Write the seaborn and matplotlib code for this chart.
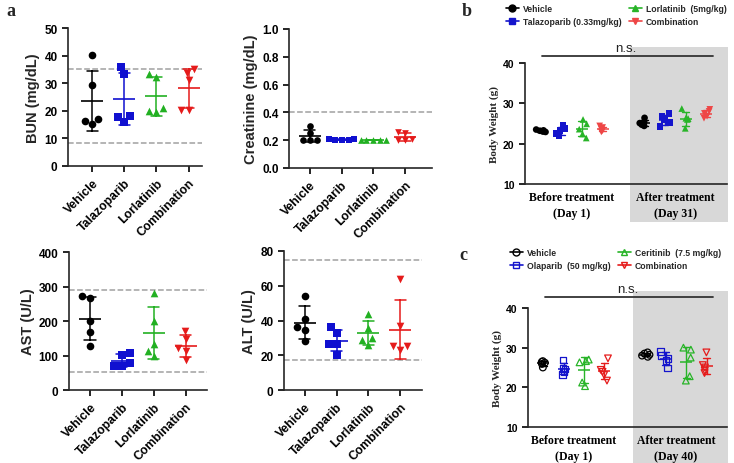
import numpy as np
import pandas as pd
import matplotlib
matplotlib.use('Agg')
import matplotlib.pyplot as plt
import seaborn as sns
from matplotlib.lines import Line2D
from matplotlib.patches import Rectangle

# ---- data ----
groups_a = ['Vehicle', 'Talazoparib', 'Lorlatinib', 'Combination']
colors_a = ['#000000', '#1010d0', '#22b022', '#e51b1b']
markers_a = ['o', 's', '^', 'v']

bun = [[40.3, 29.3, 17.0, 16.4, 15.2],
       [35.7, 33.2, 18.0, 17.8, 16.1],
       [33.4, 32.2, 21.0, 20.0, 19.4],
       [35.0, 33.7, 31.0, 20.4, 20.3]]
creatinine = [[0.30, 0.25, 0.20, 0.20, 0.20],
              [0.21, 0.21, 0.20, 0.20, 0.20],
              [0.20, 0.20, 0.20, 0.20, 0.20],
              [0.26, 0.25, 0.21, 0.20, 0.20]]
ast = [[273, 267, 199, 168, 128],
       [108, 101, 77, 70, 70],
       [282, 201, 133, 114, 99],
       [170, 148, 122, 114, 87]]
alt = [[53.9, 40.9, 36.0, 34.5, 28.4],
       [36.0, 33.0, 26.5, 26.5, 20.3],
       [43.7, 35.5, 29.7, 28.8, 25.9],
       [63.9, 36.6, 25.3, 25.3, 23.0]]

bun_ref = [35, 8.5]
creatinine_ref = [0.4]
ast_ref = [290, 53]
alt_ref = [74.8, 17.3]

times_b = ['Before treatment\n(Day 1)', 'After treatment\n(Day 31)']
groups_b = ['Vehicle', 'Talazoparib (0.33mg/kg)', 'Lorlatinib  (5mg/kg)', 'Combination']
colors_b = ['#000000', '#1414cc', '#28b428', '#ee4646']
weight_b_before = [[23.5, 23.3, 23.2, 23.0, 22.9],
                   [24.5, 23.8, 23.2, 22.5, 21.9],
                   [26.0, 24.9, 23.6, 22.4, 21.4],
                   [24.4, 24.0, 23.6, 23.2, 22.9]]
weight_b_after = [[26.4, 25.4, 25.1, 24.7, 24.4],
                  [27.4, 26.8, 26.0, 25.2, 24.2],
                  [28.7, 26.3, 26.2, 26.0, 23.8],
                  [28.5, 28.0, 27.5, 26.8, 26.3]]

times_c = ['Before treatment\n(Day 1)', 'After treatment\n(Day 40)']
groups_c = ['Vehicle', 'Olaparib  (50 mg/kg)', 'Ceritinib  (7.5 mg/kg)', 'Combination']
colors_c = ['#000000', '#1414cc', '#28b428', '#e51b1b']
weight_c_before = [[26.6, 26.4, 26.2, 25.9, 25.0],
                   [26.9, 24.8, 24.6, 24.0, 23.2],
                   [27.0, 26.6, 26.3, 21.2, 20.3],
                   [27.3, 24.4, 23.9, 23.1, 21.7]]
weight_c_after = [[28.8, 28.5, 28.2, 28.0, 27.7],
                  [29.1, 28.1, 27.2, 26.8, 24.9],
                  [30.0, 29.5, 27.5, 22.8, 21.7],
                  [28.8, 25.6, 25.0, 24.2, 23.6]]

sns.set_style('ticks')
plt.rcParams['font.family'] = ['Liberation Sans', 'DejaVu Sans']
plt.rcParams['axes.linewidth'] = 1.2
np.random.seed(7)  # only for the small horizontal jitter of the body weight dots

fig = plt.figure(figsize=(7.34, 4.64), dpi=100)


def style_axes(ax):
    sns.despine(ax=ax)
    ax.tick_params(width=1.2, length=4, colors='black')
    for lab in ax.get_yticklabels():
        lab.set_fontweight('bold')


def lab_panel(rect, values, ylabel, yticks, refs, xlim, fmt=None, size=5.5):
    ax = fig.add_axes(rect)
    df = pd.DataFrame([(g, v) for g, vals in zip(groups_a, values) for v in vals],
                      columns=['group', 'value'])
    for g, c, m in zip(groups_a, colors_a, markers_a):
        sns.swarmplot(data=df[df.group == g], x='group', y='value', order=groups_a,
                      color=c, marker=m, size=size, linewidth=0, ax=ax, zorder=3)
    sns.pointplot(data=df, x='group', y='value', hue='group', order=groups_a,
                  hue_order=groups_a, palette=colors_a, errorbar='sd', capsize=0.35,
                  marker='_', linestyle='none', markersize=16, markeredgewidth=1.2,
                  err_kws={'linewidth': 1.1}, legend=False, ax=ax)
    for r in refs:
        ax.axhline(r, color='#a0a0a0', ls='--', lw=1.1, zorder=1)
    ax.set_ylim(yticks[0], yticks[-1])
    ax.set_yticks(yticks)
    if fmt:
        ax.set_yticklabels([fmt.format(t) for t in yticks])
    ax.set_xlim(*xlim)
    ax.set_xlabel('')
    ax.set_ylabel(ylabel, fontsize=10.5, fontweight='bold', labelpad=3)
    ax.tick_params(axis='y', labelsize=8.5)
    ax.set_xticks(range(len(groups_a)))
    ax.set_xticklabels(groups_a, rotation=45, ha='right', rotation_mode='anchor',
                       fontsize=8.8, fontweight='bold')
    style_axes(ax)
    return ax


lab_panel([0.0926, 0.6401, 0.1826, 0.2974], bun, 'BUN (mg/dL)',
          [0, 10, 20, 30, 40, 50], bun_ref, (-0.76, 3.42))
lab_panel([0.3937, 0.6358, 0.1948, 0.2996], creatinine, 'Creatinine (mg/dL)',
          [0, 0.2, 0.4, 0.6, 0.8, 1.0], creatinine_ref, (-0.66, 3.85), fmt='{:.1f}', size=4.8)
lab_panel([0.0940, 0.1573, 0.1880, 0.2974], ast, 'AST (U/L)',
          [0, 100, 200, 300, 400], ast_ref, (-0.66, 3.67))
lab_panel([0.3869, 0.1573, 0.1880, 0.2996], alt, 'ALT (U/L)',
          [0, 20, 40, 60, 80], alt_ref, (-0.66, 3.69))


def weight_panel(rect, times, groups, colors, before, after, open_marks,
                 shade, line_y, legend_xy):
    ax = fig.add_axes(rect)
    ax.patch.set_alpha(0)
    rows = []
    for t, vals_all in zip(times, [before, after]):
        for g, vals in zip(groups, vals_all):
            rows += [(t, g, v) for v in vals]
    df = pd.DataFrame(rows, columns=['time', 'group', 'weight'])
    for g, c, m in zip(groups, colors, markers_a):
        n0 = len(ax.collections)
        sns.stripplot(data=df[df.group == g], x='time', y='weight', order=times,
                      hue='group', hue_order=groups, palette=colors, dodge=True,
                      jitter=0.2, marker=m, size=4.8, linewidth=0, legend=False,
                      ax=ax, zorder=3)
        if open_marks:
            for coll in ax.collections[n0:]:
                coll.set_facecolor('none')
                coll.set_edgecolor(c)
                coll.set_linewidth(0.9)
    sns.pointplot(data=df, x='time', y='weight', order=times, hue='group',
                  hue_order=groups, palette=colors, dodge=0.6, errorbar='sd',
                  capsize=0.07, marker='_', linestyle='none', markersize=9,
                  markeredgewidth=1.1, err_kws={'linewidth': 1.0}, legend=False, ax=ax)
    ax.set_ylim(10, 40)
    ax.set_yticks([10, 20, 30, 40])
    ax.set_xlim(-0.45, 1.5)
    ax.set_xlabel('')
    ax.set_ylabel('Body Weight (g)', fontsize=8, fontweight='bold',
                  family='Liberation Serif', labelpad=3)
    ax.set_xticks([0, 1])
    ax.set_xticklabels(times, fontsize=8.5, fontweight='bold', family='Liberation Serif',
                       linespacing=1.5)
    ax.tick_params(axis='y', labelsize=7.5)
    style_axes(ax)
    ax.tick_params(axis='x', length=0, pad=5)
    ax.add_patch(Rectangle((shade[0], shade[1]), shade[2], shade[3], transform=ax.transAxes,
                           clip_on=False, facecolor='#d8d8d8', edgecolor='none', zorder=0))
    ax.plot([0.085, 0.93], [line_y, line_y], transform=ax.transAxes, clip_on=False,
            color='#333333', lw=1.3)
    ax.text(0.5, line_y + 0.015, 'n.s.', transform=ax.transAxes, ha='center',
            va='bottom', fontsize=9.5, color='#222222')
    handles = [Line2D([0], [0], color=c, marker=m, markersize=5, lw=1.2,
                      markerfacecolor='none' if open_marks else c)
               for c, m in zip(colors, markers_a)]
    fig.legend(handles, groups, loc='upper left', bbox_to_anchor=legend_xy, ncol=2,
               frameon=False, prop={'size': 6.2, 'weight': 'bold'}, handlelength=1.5,
               handletextpad=0.5, columnspacing=0.8, labelspacing=0.45,
               borderpad=0, borderaxespad=0)
    return ax


weight_panel([0.7153, 0.6013, 0.2752, 0.2608], times_b, groups_b, colors_b,
             weight_b_before, weight_b_after, False,
             (0.52, -0.314, 0.485, 1.446), 1.058, (506 / 734, 1 - 5 / 464))
weight_panel([0.7193, 0.0776, 0.2711, 0.2565], times_c, groups_c, colors_c,
             weight_c_before, weight_c_after, True,
             (0.528, -0.31, 0.477, 1.453), 1.092, (510 / 734, 1 - 249 / 464))

for lab, x, y in [('a', 6, 12), ('b', 462, 12), ('c', 459, 256)]:
    fig.text(x / 734, 1 - y / 464, lab, fontsize=13, fontweight='bold',
             family='Liberation Serif', va='center')

fig.savefig('out.png', dpi=100)
